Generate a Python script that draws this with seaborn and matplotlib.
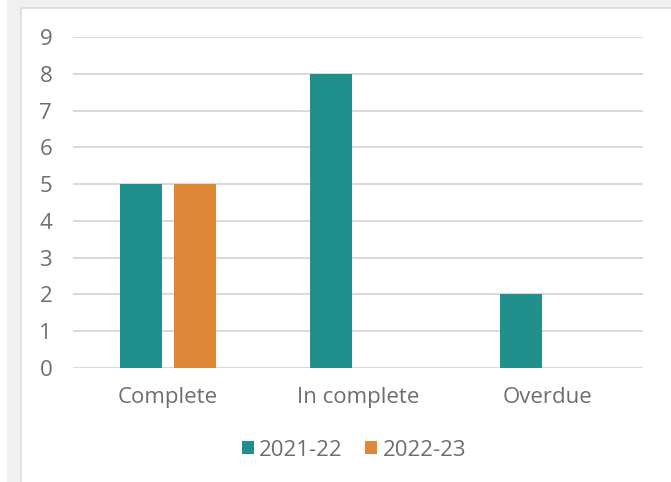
import matplotlib

matplotlib.use("Agg")
import matplotlib.pyplot as plt
import pandas as pd
import seaborn as sns
from matplotlib.patches import Rectangle

categories = ["Complete", "In complete", "Overdue"]
series_names = ["2021-22", "2022-23"]
values_2021 = [5, 8, 2]
values_2022 = [5, 0, 0]
y_ticks = list(range(0, 10))

frame = pd.DataFrame(
    {
        "category": categories * 2,
        "year": [series_names[0]] * 3 + [series_names[1]] * 3,
        "value": values_2021 + values_2022,
    }
)

sns.set_theme(style="white")
plt.rcParams["font.family"] = ["Open Sans", "DejaVu Sans"]

fig = plt.figure(figsize=(6.71, 4.82), dpi=100, facecolor="white")

# outer frame like the source screenshot
fig.patches.append(Rectangle((7 / 671, 0), 1, 1, transform=fig.transFigure,
                             facecolor="#f0f0f0", edgecolor="none", zorder=-3))
fig.patches.append(Rectangle((21 / 671, -0.1), 1, (482 - 7.5) / 482 + 0.1,
                             transform=fig.transFigure, facecolor="white",
                             edgecolor="#dcdcdc", linewidth=1.2, zorder=-2))

ax = fig.add_axes([73 / 671, 1 - 368 / 482, 570 / 671, (368 - 37) / 482])
ax.set_facecolor("none")

sns.barplot(
    data=frame, x="category", y="value", hue="year", order=categories,
    hue_order=series_names, palette=["#21908c", "#e0883a"],
    width=0.568, gap=0.22, linewidth=0, saturation=1, ax=ax, legend=True,
)

ax.set_xlim(-0.5, 2.5)
ax.set_ylim(0, 9)
ax.set_yticks(y_ticks)
ax.yaxis.grid(True, color="#d9d9d9", linewidth=1.4)
ax.set_axisbelow(True)
for side in ["top", "right", "left", "bottom"]:
    ax.spines[side].set_visible(False)
ax.set_xlabel("")
ax.set_ylabel("")
ax.tick_params(axis="both", length=0, labelsize=16, colors="#6e6e6e")
ax.tick_params(axis="y", pad=15)
ax.tick_params(axis="x", pad=14)

handles, labels = ax.get_legend_handles_labels()
ax.legend(
    handles, labels, loc="center", bbox_to_anchor=(354 / 671, 1 - 450 / 482),
    bbox_transform=fig.transFigure, ncol=2, frameon=False, fontsize=16,
    labelcolor="#6e6e6e", handlelength=0.55, handleheight=0.55, handletextpad=0.25,
    columnspacing=1.0,
)

fig.savefig("out.png", dpi=100)
